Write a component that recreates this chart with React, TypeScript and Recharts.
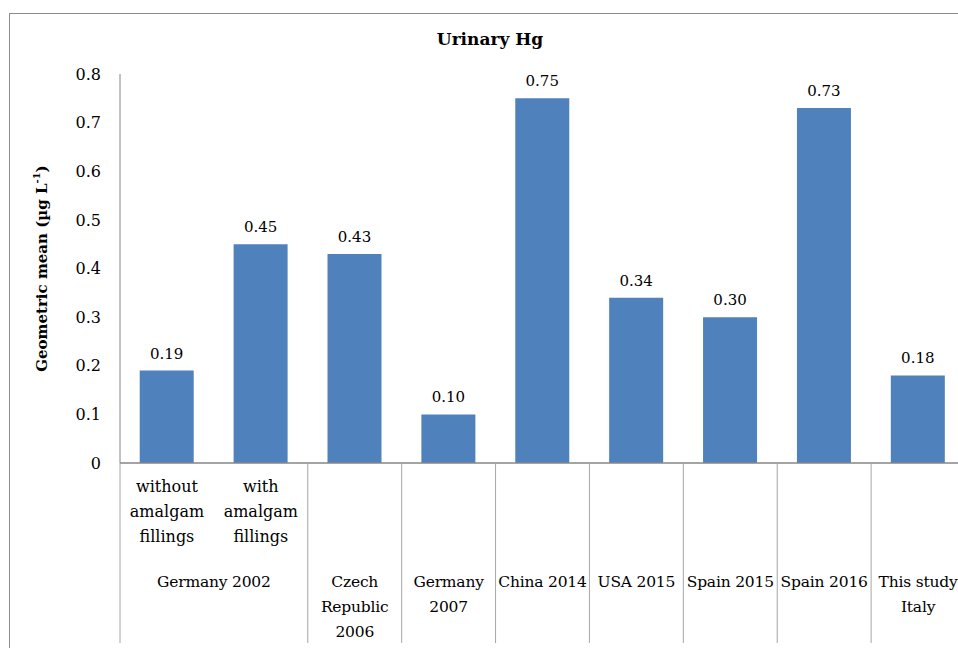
import React from 'react';
import { BarChart, Bar, XAxis, YAxis, LabelList } from 'recharts';

// category rows of the two-level axis
const subLabels: string[][] = [
  ['without', 'amalgam', 'fillings'],
  ['with', 'amalgam', 'fillings'],
  [], [], [], [], [], [], [],
];
const groupLabels: string[][] = [
  ['Germany 2002'],
  ['Czech', 'Republic', '2006'],
  ['Germany', '2007'],
  ['China 2014'],
  ['USA 2015'],
  ['Spain 2015'],
  ['Spain 2016'],
  ['This study', 'Italy'],
];
const groupSpans = [2, 1, 1, 1, 1, 1, 1, 1, 1];
const values = [0.19, 0.45, 0.43, 0.1, 0.75, 0.34, 0.3, 0.73, 0.18];
const yTicks = [0, 0.1, 0.2, 0.3, 0.4, 0.5, 0.6, 0.7, 0.8];

const FONT = '"DejaVu Serif", serif';
const CHART_W = 980;
const CHART_H = 660;
const MARGIN = { top: 74, right: 15, left: 0, bottom: 0 };
const Y_AXIS_W = 120;
const X_AXIS_H = 197;

// build one row per bar; remember which group each bar starts
const groupOf: number[] = [];
const groupStart: boolean[] = [];
groupLabels.forEach((_, g) => {
  for (let k = 0; k < groupSpans[g]; k++) {
    groupOf.push(g);
    groupStart.push(k === 0);
  }
});

const data = values.map((v, i) => ({
  name: `c${i}`,
  value: v,
}));

const plotW = CHART_W - MARGIN.left - MARGIN.right - Y_AXIS_W;
const step = plotW / values.length;

const CategoryTick = (props: any) => {
  const { x, y, payload } = props;
  const i = payload.index;
  const g = groupOf[i];
  const left = x - step / 2;
  const lineH = 25;
  return (
    <g>
      {subLabels[i].map((t, k) => (
        <text key={'s' + k} x={x} y={y + 29 + k * lineH} textAnchor="middle" fontFamily={FONT} fontSize={16} fill="#000">
          {t}
        </text>
      ))}
      {groupStart[i] && (
        <>
          <line x1={left} x2={left} y1={y} y2={y + 180} stroke="#a6a6a6" strokeWidth={1} />
          {groupLabels[g].map((t, k) => (
            <text
              key={'g' + k}
              x={left + (groupSpans[g] * step) / 2}
              y={y + 124 + k * lineH}
              textAnchor="middle"
              fontFamily={FONT}
              fontSize={15.5}
              letterSpacing={-0.2}
              fill="#000"
            >
              {t}
            </text>
          ))}
        </>
      )}
      {i === values.length - 1 && (
        <line x1={x + step / 2} x2={x + step / 2} y1={y} y2={y + 180} stroke="#a6a6a6" strokeWidth={1} />
      )}
    </g>
  );
};

const YLabel = (props: any) => {
  const vb = props.viewBox || { x: 0, y: 0, width: 0, height: 0 };
  const cx = vb.x + 42;
  const cy = vb.y + vb.height / 2;
  return (
    <text
      x={cx}
      y={cy}
      transform={`rotate(-90, ${cx}, ${cy})`}
      textAnchor="middle"
      dominantBaseline="central"
      fontFamily={FONT}
      fontWeight="bold"
      fontSize={15}
      fill="#000"
    >
      Geometric mean (µg L
      <tspan fontSize={10} dy={-6}>-1</tspan>
      <tspan dy={6}>)</tspan>
    </text>
  );
};

const App: React.FC = () => {
  return (
    <div style={{ position: 'absolute', left: 0, top: 0, width: 958, height: 648, overflow: 'hidden', background: '#fff' }}>
      <div
        style={{
          position: 'absolute',
          left: 9,
          top: 13,
          width: 1000,
          height: 1000,
          border: '1px solid #8c8c8c',
        }}
      />
      <div
        style={{
          position: 'absolute',
          left: 390,
          top: 29,
          width: 200,
          textAlign: 'center',
          fontFamily: FONT,
          fontWeight: 'bold',
          fontSize: 17,
          color: '#000',
        }}
      >
        Urinary Hg
      </div>
      <div style={{ position: 'absolute', left: 0, top: 0 }}>
        <BarChart width={CHART_W} height={CHART_H} data={data} margin={MARGIN} barCategoryGap="21%">
          <XAxis
            dataKey="name"
            height={X_AXIS_H}
            interval={0}
            tickLine={false}
            tickSize={0}
            tickMargin={0}
            axisLine={{ stroke: '#868686', strokeWidth: 1.5 }}
            tick={<CategoryTick />}
          />
          <YAxis
            width={Y_AXIS_W}
            domain={[0, 0.8]}
            ticks={yTicks}
            interval={0}
            tickLine={false}
            tickSize={0}
            tickMargin={19}
            axisLine={{ stroke: '#868686' }}
            tick={{ fontFamily: FONT, fontSize: 16, fill: '#000' }}
            tickFormatter={(v: number) => (v === 0 ? '0' : v.toFixed(1))}
            label={<YLabel />}
          />
          <Bar dataKey="value" fill="#4f81bd" isAnimationActive={false}>
            <LabelList
              dataKey="value"
              position="top"
              offset={12}
              fontFamily={FONT}
              fontSize={15}
              fill="#000"
              formatter={(v: any) => Number(v).toFixed(2)}
            />
          </Bar>
        </BarChart>
      </div>
    </div>
  );
};

export default App;
